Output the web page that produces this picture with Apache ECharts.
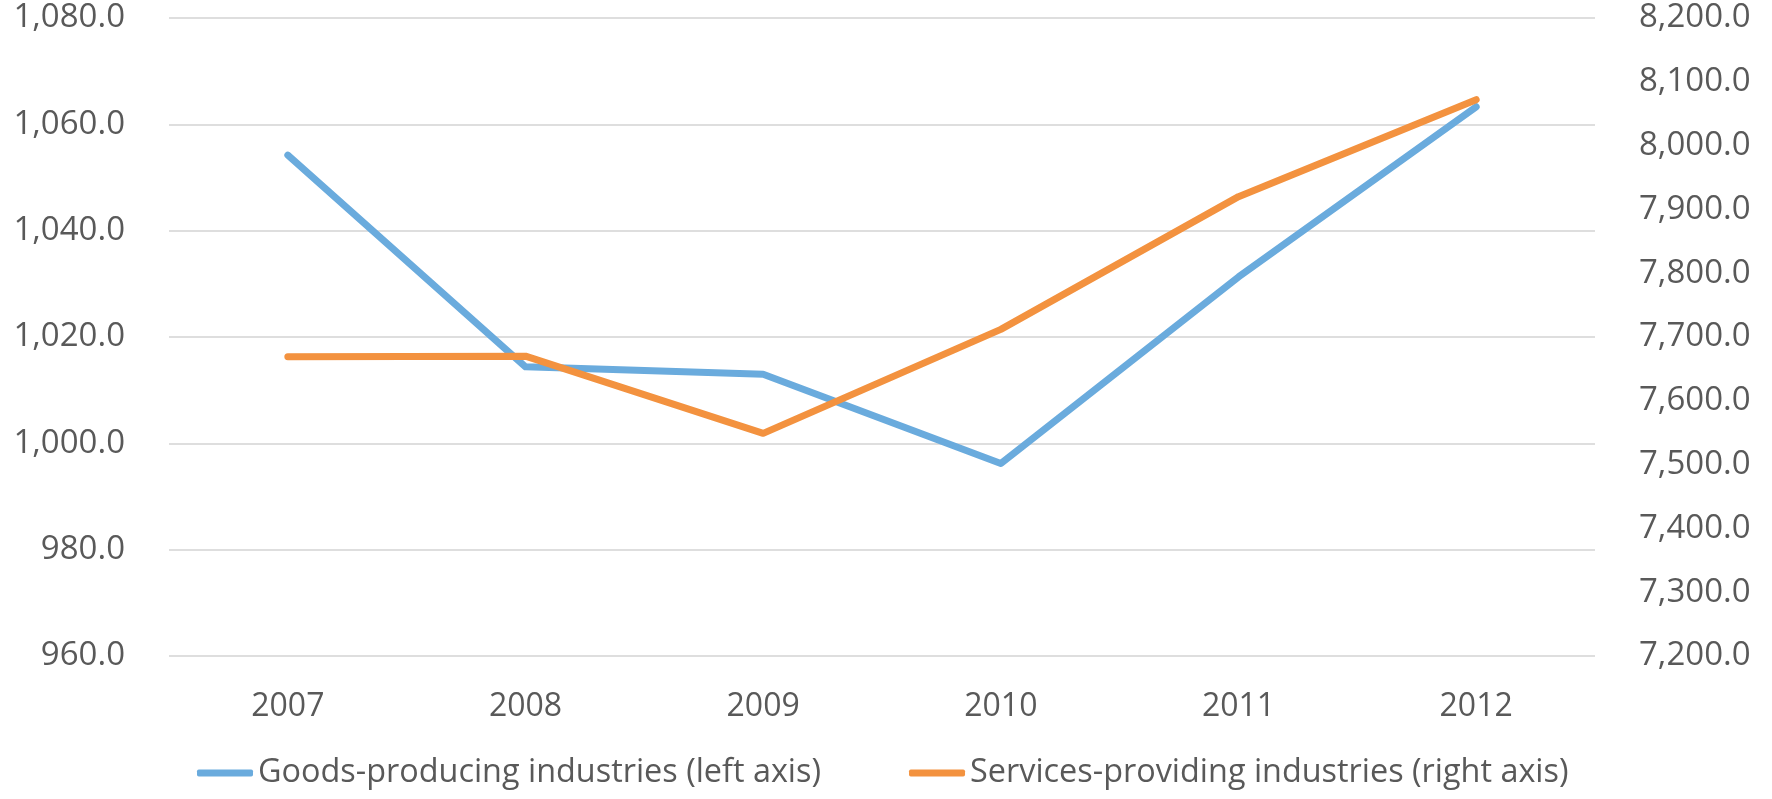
<!DOCTYPE html>
<html>
<head>
<meta charset="utf-8">
<script src="https://cdn.jsdelivr.net/npm/echarts@6/dist/echarts.min.js"></script>
<style>
  html, body { margin: 0; padding: 0; background: #ffffff; }
  #chart { width: 1772px; height: 799px; }
</style>
</head>
<body>
<div id="chart"></div>
<script>
// Employment by industry group, 2007–2012
const years = ['2007', '2008', '2009', '2010', '2011', '2012'];
const goodsProducing = [1054.2, 1014.4, 1013.0, 996.2, 1031.3, 1063.3];
const servicesProviding = [7669, 7670, 7549, 7712, 7920, 8072];
const goodsName = 'Goods-producing industries (left axis)';
const servicesName = 'Services-providing industries (right axis)';

const FONT = 'Open Sans';
const TEXT = '#595959';
const BLUE = '#6AABDD';
const ORANGE = '#F3923F';

function fmt(v) {
  const s = v.toFixed(1);
  const parts = s.split('.');
  parts[0] = parts[0].replace(/\B(?=(\d{3})+(?!\d))/g, ',');
  return parts.join('.');
}

const chart = echarts.init(document.getElementById('chart'), null, { renderer: 'canvas' });
chart.setOption({
  backgroundColor: '#ffffff',
  animation: false,
  textStyle: { fontFamily: FONT, color: TEXT },
  grid: { left: 169, right: 177, top: 18, bottom: 143, containLabel: false },
  legend: {
    left: 197,
    top: 757,
    padding: 0,
    itemWidth: 56,
    itemHeight: 7,
    itemGap: 88,
    icon: 'roundRect',
    textStyle: { fontFamily: FONT, fontSize: 32.4, color: TEXT },
    data: [
      { name: goodsName, itemStyle: { color: BLUE } },
      { name: servicesName, itemStyle: { color: ORANGE } }
    ]
  },
  xAxis: {
    type: 'category',
    data: years,
    boundaryGap: true,
    axisLine: { show: false },
    axisTick: { show: false },
    axisLabel: { fontFamily: FONT, fontSize: 32, color: TEXT, margin: 35 }
  },
  yAxis: [
    {
      type: 'value',
      min: 960, max: 1080, interval: 20,
      axisLine: { show: false },
      axisTick: { show: false },
      splitLine: { lineStyle: { color: '#DEDEDE', width: 2 } },
      axisLabel: { fontFamily: FONT, fontSize: 33, color: TEXT, margin: 44, padding: [6, 0, 0, 0], formatter: fmt }
    },
    {
      type: 'value',
      min: 7200, max: 8200, interval: 100,
      axisLine: { show: false },
      axisTick: { show: false },
      splitLine: { show: false },
      axisLabel: { fontFamily: FONT, fontSize: 33, color: TEXT, margin: 44, padding: [6, 0, 0, 0], formatter: fmt }
    }
  ],
  series: [
    {
      name: goodsName,
      type: 'line',
      yAxisIndex: 0,
      data: goodsProducing,
      showSymbol: false,
      symbol: 'none',
      lineStyle: { color: BLUE, width: 7, cap: 'round', join: 'round' },
      itemStyle: { color: BLUE },
      z: 2
    },
    {
      name: servicesName,
      type: 'line',
      yAxisIndex: 1,
      data: servicesProviding,
      showSymbol: false,
      symbol: 'none',
      lineStyle: { color: ORANGE, width: 7, cap: 'round', join: 'round' },
      itemStyle: { color: ORANGE },
      z: 3
    }
  ]
});
</script>
</body>
</html>
